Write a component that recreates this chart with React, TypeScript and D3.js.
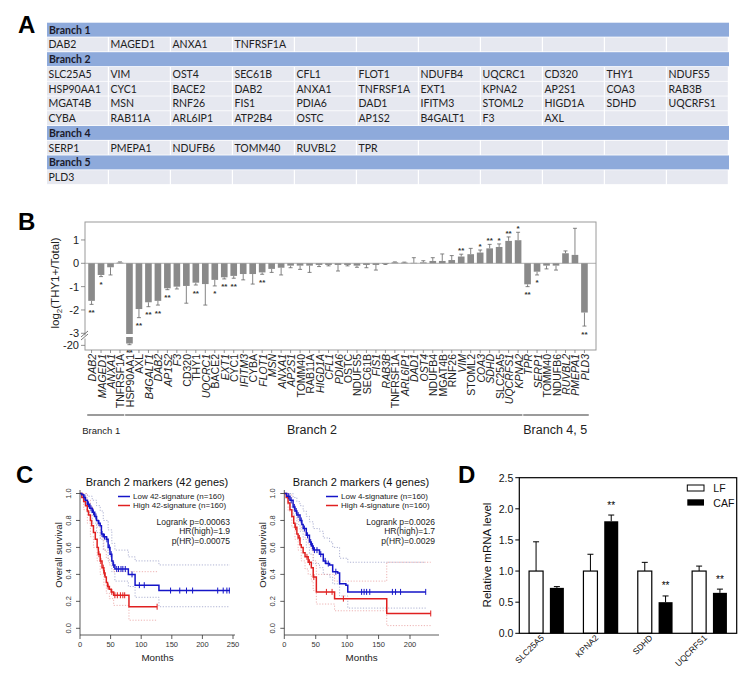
import React from "react";
import * as d3 from "d3";

const FONT = "'Liberation Sans', Arial, sans-serif";
const TFONT = "Lato, 'Open Sans', sans-serif";

// ---------------- Panel A data ----------------
const branch1Genes = ["DAB2", "MAGED1", "ANXA1", "TNFRSF1A"];
const branch2Genes = [
  "SLC25A5", "VIM", "OST4", "SEC61B", "CFL1", "FLOT1", "NDUFB4", "UQCRC1", "CD320", "THY1", "NDUFS5",
  "HSP90AA1", "CYC1", "BACE2", "DAB2", "ANXA1", "TNFRSF1A", "EXT1", "KPNA2", "AP2S1", "COA3", "RAB3B",
  "MGAT4B", "MSN", "RNF26", "FIS1", "PDIA6", "DAD1", "IFITM3", "STOML2", "HIGD1A", "SDHD", "UQCRFS1",
  "CYBA", "RAB11A", "ARL6IP1", "ATP2B4", "OSTC", "AP1S2", "B4GALT1", "F3", "AXL",
];
const branch4Genes = ["SERP1", "PMEPA1", "NDUFB6", "TOMM40", "RUVBL2", "TPR"];
const branch5Genes = ["PLD3"];
const tableHeaders = ["Branch 1", "Branch 2", "Branch 4", "Branch 5"];

// ---------------- Panel B data ----------------
const bGenes = [
  "DAB2", "MAGED1", "ANXA1", "TNFRSF1A", "HSP90AA1", "AXL", "B4GALT1", "DAB2", "AP1S2", "F3",
  "CD320", "THY1", "UQCRC1", "BACE2", "EXT1", "CYC1", "IFITM3", "CYBA", "FLOT1", "MSN",
  "ANXA1", "AP2S1", "TOMM40", "RAB11A", "HIGD1A", "CFL1", "PDIA6", "OSTC", "NDUFS5", "SEC61B",
  "FIS1", "RAB3B", "TNFRSF1A", "ARL6IP1", "DAD1", "OST4", "NDUFB4", "MGAT4B", "RNF26", "VIM",
  "STOML2", "COA3", "SDHD", "SLC25A5", "UQCRFS1", "KPNA2", "TPR", "SERP1", "TOMM40", "NDUFB6",
  "RUVBL2", "PMEPA1", "PLD3",
];
const bValues = [
  -1.61, -0.5, -0.17, 0.03, -19.6, -1.96, -1.67, -1.61, -1.07, -1.0,
  -0.97, -0.83, -0.89, -0.71, -0.6, -0.54, -0.46, -0.46, -0.39, -0.24,
  -0.19, -0.1, -0.1, -0.1, -0.07, -0.07, -0.07, -0.07, -0.1, -0.07,
  -0.07, -0.03, 0.04, 0.03, 0.02, 0.04, 0.1, 0.1, 0.14, 0.29,
  0.39, 0.46, 0.64, 0.7, 0.96, 0.99, -0.9, -0.36, -0.1, -0.1,
  0.43, 0.36, -2.11,
];
const bErrEnd = [
  -1.76, -0.57, -0.5, 0.06, -19.85, -2.33, -1.86, -1.79, -1.13, -1.1,
  -1.71, -0.93, -1.79, -0.97, -0.67, -0.64, -0.71, -0.89, -0.47, -0.39,
  -0.5, -0.19, -0.26, -0.39, -0.14, -0.11, -0.33, -0.11, -0.17, -0.19,
  -0.29, -0.05, 0.06, 0.05, 0.24, 0.11, 0.24, 0.4, 0.33, 0.39,
  0.64, 0.57, 0.81, 0.83, 1.13, 1.33, -1.0, -0.5, -0.24, -0.29,
  0.53, 1.5, -2.69,
];
const bStars = [
  "**", "*", "", "", "**", "**", "**", "**", "**", "",
  "", "**", "", "*", "**", "**", "", "", "**", "",
  "", "", "", "", "", "", "", "", "", "",
  "", "", "", "", "", "", "", "", "", "**",
  "", "*", "**", "*", "**", "*", "**", "*", "", "",
  "", "", "**",
];
const bYTicks = [1, 0, -1, -2, -3, -20];
const branchLabels = ["Branch 1", "Branch 2", "Branch 4, 5"];
const branchFirst = [0, 4, 46];
const branchLast = [3, 45, 52];

// ---------------- Panel C data ----------------
// [months, survival] step points
const leftLow = [[0, 1], [3, 0.99], [6, 0.97], [9, 0.95], [12, 0.92], [16, 0.89], [20, 0.86], [24, 0.83], [27, 0.8], [30, 0.78], [33, 0.76], [35, 0.7], [38, 0.68], [43, 0.66], [46, 0.6], [49, 0.55], [52, 0.5], [54, 0.47], [57, 0.44], [79, 0.4], [90, 0.32], [129, 0.28], [245, 0.28]];
const leftHigh = [[0, 1], [3, 0.97], [6, 0.94], [9, 0.91], [12, 0.87], [14, 0.84], [17, 0.8], [19, 0.76], [22, 0.71], [25, 0.66], [28, 0.6], [30, 0.55], [33, 0.5], [36, 0.45], [39, 0.41], [41, 0.38], [43, 0.34], [45, 0.31], [48, 0.29], [51, 0.27], [55, 0.245], [80, 0.16], [126, 0.16]];
const leftLowUpper = [[0, 1], [6, 1], [12, 0.98], [20, 0.95], [27, 0.91], [33, 0.87], [38, 0.8], [46, 0.73], [52, 0.63], [57, 0.58], [79, 0.53], [90, 0.5], [129, 0.47], [245, 0.47]];
const leftLowLower = [[0, 1], [6, 0.93], [12, 0.86], [20, 0.78], [27, 0.71], [33, 0.66], [38, 0.58], [46, 0.5], [52, 0.42], [57, 0.35], [79, 0.31], [90, 0.23], [129, 0.16], [245, 0.16]];
const leftHighUpper = [[0, 1], [6, 1], [12, 0.95], [17, 0.9], [22, 0.83], [28, 0.75], [33, 0.67], [39, 0.58], [43, 0.52], [48, 0.47], [55, 0.42], [126, 0.42]];
const leftHighLower = [[0, 1], [6, 0.88], [12, 0.78], [17, 0.68], [22, 0.6], [28, 0.5], [33, 0.4], [39, 0.32], [43, 0.26], [48, 0.22], [55, 0.17], [80, 0.06], [126, 0.06]];
const leftLowCensor = [8, 14, 18, 22, 26, 31, 36, 40, 44, 48, 51, 55, 60, 63, 67, 70, 74, 85, 97, 105, 148, 163, 174, 184, 225, 234, 240, 244];
const leftHighCensor = [31, 34, 38, 40, 46, 52, 57, 61, 66, 70, 73, 126];

const rightLow = [[0, 1], [4, 0.98], [9, 0.95], [14, 0.9], [17, 0.87], [20, 0.84], [25, 0.8], [28, 0.77], [30, 0.74], [35, 0.69], [40, 0.64], [43, 0.61], [46, 0.58], [56, 0.55], [62, 0.5], [66, 0.48], [72, 0.47], [77, 0.42], [85, 0.41], [88, 0.33], [98, 0.32], [101, 0.27], [225, 0.27]];
const rightHigh = [[0, 1], [3, 0.97], [6, 0.93], [9, 0.88], [12, 0.83], [15, 0.78], [17, 0.75], [20, 0.7], [22, 0.67], [25, 0.62], [27, 0.6], [30, 0.56], [33, 0.53], [38, 0.49], [43, 0.45], [46, 0.38], [51, 0.27], [80, 0.22], [163, 0.11], [233, 0.11]];
const rightLowUpper = [[0, 1], [9, 1], [14, 0.97], [20, 0.94], [25, 0.91], [30, 0.87], [35, 0.83], [40, 0.79], [46, 0.74], [56, 0.72], [62, 0.67], [72, 0.64], [77, 0.6], [88, 0.52], [101, 0.49], [225, 0.49]];
const rightLowLower = [[0, 1], [9, 0.9], [14, 0.84], [20, 0.77], [25, 0.72], [30, 0.66], [35, 0.6], [40, 0.55], [46, 0.48], [56, 0.45], [62, 0.4], [72, 0.38], [77, 0.33], [88, 0.24], [101, 0.15], [225, 0.15]];
const rightHighUpper = [[0, 1], [6, 0.99], [12, 0.92], [17, 0.86], [22, 0.79], [27, 0.73], [33, 0.67], [38, 0.62], [43, 0.58], [46, 0.5], [51, 0.4], [80, 0.35], [163, 0.49], [233, 0.49]];
const rightHighLower = [[0, 1], [6, 0.87], [12, 0.75], [17, 0.66], [22, 0.58], [27, 0.5], [33, 0.44], [38, 0.4], [43, 0.35], [46, 0.28], [51, 0.18], [80, 0.13], [163, 0.02], [233, 0.02]];
const rightLowCensor = [7, 11, 16, 19, 22, 27, 32, 37, 42, 45, 48, 52, 58, 65, 70, 82, 123, 127, 131, 136, 172, 177, 185, 225];
const rightHighCensor = [18, 24, 36, 40, 47, 67, 76, 94, 233];

const kmYTicks = [0, 0.2, 0.4, 0.6, 0.8, 1.0];
const leftXTicks = [0, 50, 100, 150, 200, 250];
const rightXTicks = [0, 50, 100, 150, 200];

// ---------------- Panel D data ----------------
const dGenes = ["SLC25A5", "KPNA2", "SDHD", "UQCRFS1"];
const lfValues = [1.0, 1.0, 1.0, 1.0];
const lfErr = [0.47, 0.27, 0.14, 0.08];
const cafValues = [0.73, 1.8, 0.5, 0.65];
const cafErr = [0.02, 0.1, 0.1, 0.06];
const cafStars = ["", "**", "**", "**"];
const dYTicks = [0, 0.5, 1.0, 1.5, 2.0, 2.5];

// style: which panel-B labels are italic
const B_ITALIC = new Set([0, 1, 2, 6, 7, 8, 9, 12, 14, 16, 18, 19, 20, 21, 24, 25, 26, 30, 31, 33, 34, 35, 39, 41, 42, 44, 45, 46, 47, 50, 51, 52]);

function PanelA() {
  const x0 = 47, x1 = 729, colW = 62, rowH = 14.75, y0 = 22.7;
  const rows: { header?: string; genes?: string[] }[] = [];
  const chunk = (arr: string[]) => {
    for (let i = 0; i < arr.length; i += 11) rows.push({ genes: arr.slice(i, i + 11) });
  };
  rows.push({ header: tableHeaders[0] });
  chunk(branch1Genes);
  rows.push({ header: tableHeaders[1] });
  chunk(branch2Genes);
  rows.push({ header: tableHeaders[2] });
  chunk(branch4Genes);
  rows.push({ header: tableHeaders[3] });
  chunk(branch5Genes);
  return (
    <g>
      <text x={18} y={33} fontFamily={FONT} fontWeight="bold" fontSize={24}>A</text>
      {rows.map((r, ri) => {
        const y = y0 + ri * rowH;
        if (r.header) {
          return (
            <g key={ri}>
              <rect x={x0} y={y} width={x1 - x0} height={rowH - 0.8} fill="#8EAADB" />
              <text x={x0 + 2} y={y + rowH - 3.8} fontFamily={TFONT} fontWeight="bold" fontSize={10.5} fill="#1b1b2b">{r.header}</text>
            </g>
          );
        }
        return (
          <g key={ri}>
            {d3.range(11).map((c) => (
              <rect key={c} x={x0 + c * colW} y={y} width={colW - 1.2} height={rowH - 0.8} fill="#E6E8F0" />
            ))}
            {r.genes!.map((g, c) => (
              <text key={"t" + c} x={x0 + c * colW + 1.5} y={y + rowH - 3.8} fontFamily={TFONT} fontSize={10.5} fill="#222">{g}</text>
            ))}
          </g>
        );
      })}
    </g>
  );
}

function PanelB() {
  const left = 85, right = 596, top = 222, bottom = 350;
  const x = d3.scaleBand<number>().domain(d3.range(bGenes.length)).range([83.5, 592.5]).paddingInner(0.3).paddingOuter(0.5);
  const y = d3.scaleLinear().domain([-21, -18.3, -3.15, 1.8]).range([350, 337.5, 336.8, 221.3]);
  const bw = x.bandwidth();
  const y0 = y(0);
  const spans = branchLabels.map((b, k) => ({
    label: b,
    xa: (x(branchFirst[k]) as number) - 1,
    xb: (x(branchLast[k]) as number) + bw + 1,
  }));
  return (
    <g fontFamily={FONT}>
      <text x={18} y={230} fontWeight="bold" fontSize={24}>B</text>
      <rect x={left} y={top} width={right - left} height={bottom - top} fill="none" stroke="#9a9a9a" strokeWidth={1} />
      <line x1={left} x2={right} y1={y0} y2={y0} stroke="#9a9a9a" strokeWidth={0.8} />
      {bValues.map((v, i) => {
        const xc = x(i)! + bw / 2;
        const yv = y(v);
        const ye = y(bErrEnd[i]);
        const neg = v < 0;
        return (
          <g key={i}>
            <line x1={xc} x2={xc} y1={yv} y2={ye} stroke="#666" strokeWidth={0.8} />
            <line x1={xc - 2} x2={xc + 2} y1={ye} y2={ye} stroke="#666" strokeWidth={0.8} />
            <rect x={x(i)} y={neg ? y0 : yv} width={bw} height={Math.abs(yv - y0)} fill="#8a8a8a" />
            {v < -3.15 && <rect x={x(i)! - 1} y={334} width={bw + 2} height={3} fill="#fff" />}
            {bStars[i] && (
              <text x={xc} y={neg ? ye + 10.5 : ye - 1} textAnchor="middle" fontSize={8} fontWeight="bold" fill="#333">{bStars[i]}</text>
            )}
            <line x1={xc} x2={xc} y1={bottom} y2={bottom + 3} stroke="#777" strokeWidth={0.8} />
            <text transform={`translate(${xc + 4.5},${bottom + 4}) rotate(-90)`} textAnchor="end" fontSize={10.5} fontStyle={B_ITALIC.has(i) ? "italic" : "normal"} fill="#222">{bGenes[i]}</text>
          </g>
        );
      })}
      {bYTicks.map((t) => (
        <g key={t}>
          <line x1={left - 4} x2={left} y1={y(t)} y2={y(t)} stroke="#777" strokeWidth={0.8} />
          <text x={left - 6} y={y(t) + 4} textAnchor="end" fontSize={11} fill="#222">{t}</text>
        </g>
      ))}
      <rect x={left - 1} y={335.5} width={2} height={3} fill="#fff" />
      <line x1={81} x2={88} y1={337} y2={331} stroke="#555" strokeWidth={0.8} />
      <line x1={81} x2={88} y1={340} y2={334} stroke="#555" strokeWidth={0.8} />
      <text transform="translate(59,283) rotate(-90)" textAnchor="middle" fontSize={11.5} fill="#222">
        log<tspan dy={3} fontSize={8}>2</tspan><tspan dy={-3}>(THY1+/Total)</tspan>
      </text>
      {spans.map((s) => (
        <line key={"ln" + s.label} x1={s.xa} x2={s.xb} y1={415} y2={415} stroke="#7a7a7a" strokeWidth={1.6} />
      ))}
      <text x={spans[0].xa - 5} y={434} fontSize={9.5} fill="#222">{spans[0].label}</text>
      <text x={312} y={434} textAnchor="middle" fontSize={12.5} fill="#222">{spans[1].label}</text>
      <text x={spans[2].xa} y={434} fontSize={12.5} fill="#222">{spans[2].label}</text>
    </g>
  );
}

type Pts = number[][];
function survAt(pts: Pts, t: number) {
  let s = 1;
  for (const p of pts) if (p[0] <= t) s = p[1];
  return s;
}

function KMPlot(props: {
  xDomain: [number, number]; xRange: [number, number]; axisEnd: number; xTicks: number[];
  title: string; titleX: number; low: Pts; high: Pts; lowU: Pts; lowL: Pts; highU: Pts; highL: Pts;
  lowC: number[]; highC: number[]; legLow: string; legHigh: string; legX: number; stats: string[]; statsX: number;
}) {
  const x = d3.scaleLinear().domain(props.xDomain).range(props.xRange);
  const y = d3.scaleLinear().domain([0, 1]).range([628.3, 493.5]);
  const line = d3.line<number[]>().x((d) => x(d[0])).y((d) => y(d[1])).curve(d3.curveStepAfter);
  const ax = props.xRange[0];
  const axY = 635;
  const blue = "#1515c8", red = "#e02020";
  return (
    <g fontFamily={FONT}>
      <text x={props.titleX} y={485.5} textAnchor="middle" fontSize={11} fill="#111">{props.title}</text>
      <path d={line(props.lowU)!} fill="none" stroke="#9aa0c8" strokeWidth={0.8} strokeDasharray="1.2,1.6" />
      <path d={line(props.lowL)!} fill="none" stroke="#9aa0c8" strokeWidth={0.8} strokeDasharray="1.2,1.6" />
      <path d={line(props.highU)!} fill="none" stroke="#e8a0a0" strokeWidth={0.8} strokeDasharray="1.2,1.6" />
      <path d={line(props.highL)!} fill="none" stroke="#e8a0a0" strokeWidth={0.8} strokeDasharray="1.2,1.6" />
      <path d={line(props.high)!} fill="none" stroke={red} strokeWidth={1.5} />
      <path d={line(props.low)!} fill="none" stroke={blue} strokeWidth={1.5} />
      {props.highC.map((t, i) => (
        <line key={"hc" + i} x1={x(t)} x2={x(t)} y1={y(survAt(props.high, t)) - 3} y2={y(survAt(props.high, t)) + 3} stroke={red} strokeWidth={1} />
      ))}
      {props.lowC.map((t, i) => (
        <line key={"lc" + i} x1={x(t)} x2={x(t)} y1={y(survAt(props.low, t)) - 3} y2={y(survAt(props.low, t)) + 3} stroke={blue} strokeWidth={1} />
      ))}
      <line x1={ax} x2={ax} y1={490} y2={axY} stroke="#333" strokeWidth={0.8} />
      <line x1={ax} x2={props.axisEnd} y1={axY} y2={axY} stroke="#333" strokeWidth={0.8} />
      {kmYTicks.map((t) => (
        <g key={t}>
          <line x1={ax - 4} x2={ax} y1={y(t)} y2={y(t)} stroke="#333" strokeWidth={0.8} />
          <text transform={`translate(${ax - 9.3},${y(t)}) rotate(-90)`} textAnchor="middle" fontSize={7.5} fill="#333">{t.toFixed(1)}</text>
        </g>
      ))}
      {props.xTicks.map((t) => (
        <g key={t}>
          <line x1={x(t)} x2={x(t)} y1={axY} y2={axY + 4} stroke="#333" strokeWidth={0.8} />
          <text x={x(t)} y={647} textAnchor="middle" fontSize={7.5} fill="#333">{t}</text>
        </g>
      ))}
      <text x={(ax + props.axisEnd) / 2} y={660.5} textAnchor="middle" fontSize={9.8} fill="#222">Months</text>
      <text transform={`translate(${ax - 18.5},555) rotate(-90)`} textAnchor="middle" fontSize={9.6} fill="#222">Overall survival</text>
      <line x1={props.legX} x2={props.legX + 12} y1={496.5} y2={496.5} stroke={blue} strokeWidth={1.5} />
      <line x1={props.legX} x2={props.legX + 12} y1={505.5} y2={505.5} stroke={red} strokeWidth={1.5} />
      <text x={props.legX + 15} y={499.3} fontSize={8} fill="#222">{props.legLow}</text>
      <text x={props.legX + 15} y={508.3} fontSize={8} fill="#222">{props.legHigh}</text>
      {props.stats.map((s, i) => (
        <text key={s} x={props.statsX} y={524.7 + i * 9.5} textAnchor="end" fontSize={8.5} fill="#222">{s}</text>
      ))}
    </g>
  );
}

function PanelC() {
  return (
    <g>
      <text x={16} y={483} fontFamily={FONT} fontWeight="bold" fontSize={24}>C</text>
      <KMPlot xDomain={[0, 250]} xRange={[80, 233]} axisEnd={235} xTicks={leftXTicks}
        title="Branch 2 markers (42 genes)" titleX={157}
        low={leftLow} high={leftHigh} lowU={leftLowUpper} lowL={leftLowLower} highU={leftHighUpper} highL={leftHighLower}
        lowC={leftLowCensor} highC={leftHighCensor}
        legLow="Low 42-signature (n=160)" legHigh="High 42-signature (n=160)" legX={118}
        stats={["Logrank p=0.00063", "HR(high)=1.9", "p(HR)=0.00075"]} statsX={230} />
      <KMPlot xDomain={[0, 200]} xRange={[284.3, 410]} axisEnd={439} xTicks={rightXTicks}
        title="Branch 2 markers (4 genes)" titleX={361}
        low={rightLow} high={rightHigh} lowU={rightLowUpper} lowL={rightLowLower} highU={rightHighUpper} highL={rightHighLower}
        lowC={rightLowCensor} highC={rightHighCensor}
        legLow="Low 4-signature (n=160)" legHigh="High 4-signature (n=160)" legX={326}
        stats={["Logrank p=0.0026", "HR(high)=1.7", "p(HR)=0.0029"]} statsX={435} />
    </g>
  );
}

function PanelD() {
  const left = 519.3, right = 736.7, top = 477.7, bottom = 633.3;
  const x = d3.scaleBand<string>().domain(dGenes).range([left, right]).padding(0);
  const y = d3.scaleLinear().domain([0, 2.5]).range([bottom, top]);
  const bw = 14, gap = 3.4;
  return (
    <g fontFamily={FONT}>
      <text x={458} y={483} fontWeight="bold" fontSize={24}>D</text>
      {dGenes.map((g, i) => {
        const c = x(g)! + x.bandwidth() / 2;
        const lx = c - gap - bw, cx = c + gap;
        const lTop = y(lfValues[i]), lErr = y(lfValues[i] + lfErr[i]);
        const cTop = y(cafValues[i]), cErr = y(cafValues[i] + cafErr[i]);
        return (
          <g key={g}>
            <line x1={lx + bw / 2} x2={lx + bw / 2} y1={lTop} y2={lErr} stroke="#000" strokeWidth={1} />
            <line x1={lx + bw / 2 - 3} x2={lx + bw / 2 + 3} y1={lErr} y2={lErr} stroke="#000" strokeWidth={1} />
            <rect x={lx} y={lTop} width={bw} height={bottom - lTop} fill="#fff" stroke="#000" strokeWidth={1.2} />
            <line x1={cx + bw / 2} x2={cx + bw / 2} y1={cTop} y2={cErr} stroke="#000" strokeWidth={1} />
            <line x1={cx + bw / 2 - 3} x2={cx + bw / 2 + 3} y1={cErr} y2={cErr} stroke="#000" strokeWidth={1} />
            <rect x={cx} y={cTop} width={bw} height={bottom - cTop} fill="#000" />
            {cafStars[i] && (
              <text x={cx + bw / 2} y={cErr - 6.5} textAnchor="middle" fontSize={10} fill="#000">{cafStars[i]}</text>
            )}
            <text transform={`translate(${c - 2},${bottom + 5}) rotate(-45)`} textAnchor="end" fontSize={8.5} fill="#111">{g}</text>
          </g>
        );
      })}
      <rect x={left} y={top} width={right - left} height={bottom - top} fill="none" stroke="#000" strokeWidth={1.2} />
      {dYTicks.map((t) => (
        <g key={t}>
          <line x1={left - 4} x2={left} y1={y(t)} y2={y(t)} stroke="#000" strokeWidth={1} />
          <text x={left - 6} y={y(t) + 3.8} textAnchor="end" fontSize={10.5} fill="#111">{t.toFixed(1)}</text>
        </g>
      ))}
      <text transform="translate(491,555) rotate(-90)" textAnchor="middle" fontSize={11.5} fill="#111">Relative mRNA level</text>
      <rect x={687.3} y={485} width={16.7} height={6} fill="#fff" stroke="#000" strokeWidth={1} />
      <text x={713.3} y={492} fontSize={10.5} fill="#111">LF</text>
      <rect x={687.3} y={499.3} width={16.7} height={6.3} fill="#000" />
      <text x={713.3} y={506.5} fontSize={10.5} fill="#111">CAF</text>
    </g>
  );
}

export default function App() {
  return (
    <svg width={747} height={688} viewBox="0 0 747 688" style={{ position: "absolute", left: 0, top: 0, background: "#fff" }}>
      <rect width={747} height={688} fill="#fff" />
      <PanelA />
      <PanelB />
      <PanelC />
      <PanelD />
    </svg>
  );
}
